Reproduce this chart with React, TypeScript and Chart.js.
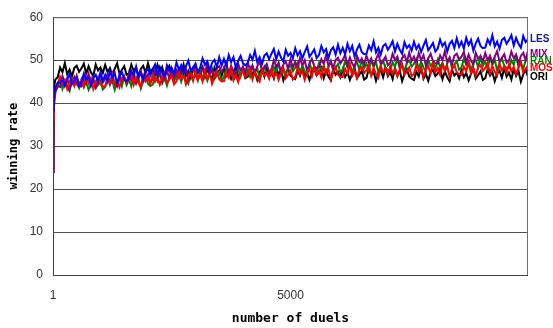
import React, { useEffect, useRef } from "react";
import { Chart, registerables } from "chart.js";

Chart.register(...registerables);

const duels = [
  1, 20, 50,
  100, 150, 200, 250, 300, 350, 400, 450, 500, 550,
  600, 650, 700, 750, 800, 850, 900, 950, 1000, 1050,
  1100, 1150, 1200, 1250, 1300, 1350, 1400, 1450, 1500, 1550,
  1600, 1650, 1700, 1750, 1800, 1850, 1900, 1950, 2000, 2050,
  2100, 2150, 2200, 2250, 2300, 2350, 2400, 2450, 2500, 2550,
  2600, 2650, 2700, 2750, 2800, 2850, 2900, 2950, 3000, 3050,
  3100, 3150, 3200, 3250, 3300, 3350, 3400, 3450, 3500, 3550,
  3600, 3650, 3700, 3750, 3800, 3850, 3900, 3950, 4000, 4050,
  4100, 4150, 4200, 4250, 4300, 4350, 4400, 4450, 4500, 4550,
  4600, 4650, 4700, 4750, 4800, 4850, 4900, 4950, 5000, 5050,
  5100, 5150, 5200, 5250, 5300, 5350, 5400, 5450, 5500, 5550,
  5600, 5650, 5700, 5750, 5800, 5850, 5900, 5950, 6000, 6050,
  6100, 6150, 6200, 6250, 6300, 6350, 6400, 6450, 6500, 6550,
  6600, 6650, 6700, 6750, 6800, 6850, 6900, 6950, 7000, 7050,
  7100, 7150, 7200, 7250, 7300, 7350, 7400, 7450, 7500, 7550,
  7600, 7650, 7700, 7750, 7800, 7850, 7900, 7950, 8000, 8050,
  8100, 8150, 8200, 8250, 8300, 8350, 8400, 8450, 8500, 8550,
  8600, 8650, 8700, 8750, 8800, 8850, 8900, 8950, 9000, 9050,
  9100, 9150, 9200, 9250, 9300, 9350, 9400, 9450, 9500, 9550,
  9600, 9650, 9700, 9750, 9800, 9850, 9900, 9950, 10000,
];

const les = [
  38, 41.5, 43.5,
  44.8, 44.7, 45.7, 44.0, 45.5, 46.8, 44.4, 45.2, 46.1, 44.1,
  44.8, 46.9, 45.4, 46.2, 44.1, 45.9, 46.6, 44.9, 47.2, 45.2,
  46.6, 45.0, 47.5, 45.8, 47.0, 44.5, 46.2, 47.3, 45.6, 45.1,
  45.6, 47.5, 46.4, 48.5, 45.9, 47.0, 45.4, 47.4, 47.9, 46.5,
  47.9, 49.0, 46.6, 48.4, 47.0, 46.1, 48.8, 47.4, 48.1, 46.8,
  49.5, 47.8, 48.8, 47.1, 48.6, 49.9, 47.5, 48.3, 49.2, 47.2,
  48.3, 50.4, 48.9, 49.7, 47.6, 49.4, 50.1, 48.4, 50.7, 48.7,
  50.3, 48.7, 51.2, 49.5, 50.7, 48.2, 49.9, 51.0, 49.3, 48.8,
  49.3, 51.2, 50.1, 52.2, 49.6, 50.7, 49.1, 51.1, 51.6, 50.2,
  51.5, 52.6, 50.2, 52.0, 50.6, 49.7, 52.4, 51.0, 51.7, 50.4,
  52.8, 51.1, 52.1, 50.4, 51.9, 53.2, 50.8, 51.6, 52.5, 50.5,
  51.2, 53.3, 51.8, 52.6, 50.5, 52.3, 53.0, 51.3, 53.6, 51.6,
  52.9, 51.3, 53.8, 52.1, 53.3, 50.8, 52.5, 53.6, 51.9, 51.4,
  51.5, 53.4, 52.3, 54.4, 51.8, 52.9, 51.3, 53.3, 53.8, 52.4,
  53.3, 54.4, 52.0, 53.8, 52.4, 51.5, 54.2, 52.8, 53.5, 52.2,
  54.3, 52.6, 53.6, 51.9, 53.4, 54.7, 52.3, 53.1, 54.0, 52.0,
  52.7, 54.8, 53.3, 54.1, 52.0, 53.8, 54.5, 52.8, 55.1, 53.1,
  54.3, 52.7, 55.2, 53.5, 54.7, 52.2, 53.9, 55.0, 53.3, 52.8,
  52.9, 54.8, 53.7, 55.8, 53.2, 54.3, 52.7, 54.7, 55.2, 53.8,
  54.7, 55.8, 53.4, 55.2, 53.8, 52.9, 55.6, 54.2, 54.9,
];

const mix = [
  24, 39, 42.5,
  44.0, 43.8, 46.3, 44.6, 45.8, 43.3, 45.0, 46.1, 44.4, 43.9,
  43.9, 45.8, 44.7, 46.8, 44.2, 45.3, 43.7, 45.7, 46.2, 44.8,
  45.7, 46.8, 44.4, 46.2, 44.8, 43.9, 46.6, 45.2, 45.9, 44.6,
  47.0, 45.3, 46.3, 44.6, 46.1, 47.4, 45.0, 45.8, 46.7, 44.7,
  45.7, 47.8, 46.3, 47.1, 45.0, 46.8, 47.5, 45.8, 48.1, 46.1,
  47.6, 46.0, 48.5, 46.8, 48.0, 45.5, 47.2, 48.3, 46.6, 46.1,
  46.3, 48.2, 47.1, 49.2, 46.6, 47.7, 46.1, 48.1, 48.6, 47.2,
  48.2, 49.3, 46.9, 48.7, 47.3, 46.4, 49.1, 47.7, 48.4, 47.1,
  49.4, 47.7, 48.7, 47.0, 48.5, 49.8, 47.4, 48.2, 49.1, 47.1,
  47.9, 50.0, 48.5, 49.3, 47.2, 49.0, 49.7, 48.0, 50.3, 48.3,
  49.6, 48.0, 50.5, 48.8, 50.0, 47.5, 49.2, 50.3, 48.6, 48.1,
  48.3, 50.2, 49.1, 51.2, 48.6, 49.7, 48.1, 50.1, 50.6, 49.2,
  50.1, 51.2, 48.8, 50.6, 49.2, 48.3, 51.0, 49.6, 50.3, 49.0,
  51.1, 49.4, 50.4, 48.7, 50.2, 51.5, 49.1, 49.9, 50.8, 48.8,
  49.4, 51.5, 50.0, 50.8, 48.7, 50.5, 51.2, 49.5, 51.8, 49.8,
  50.8, 49.2, 51.7, 50.0, 51.2, 48.7, 50.4, 51.5, 49.8, 49.3,
  49.2, 51.1, 50.0, 52.1, 49.5, 50.6, 49.0, 51.0, 51.5, 50.1,
  50.8, 51.9, 49.5, 51.3, 49.9, 49.0, 51.7, 50.3, 51.0, 49.7,
  51.7, 50.0, 51.0, 49.3, 50.8, 52.1, 49.7, 50.5, 51.4, 49.4,
  49.9, 52.0, 50.5, 51.3, 49.2, 51.0, 51.7, 50.0, 52.3,
];

const ran = [
  32, 40.5, 43,
  43.8, 45.7, 43.3, 45.1, 43.7, 42.8, 45.5, 44.1, 44.8, 43.5,
  45.5, 43.8, 44.8, 43.1, 44.6, 45.9, 43.5, 44.3, 45.2, 43.2,
  43.8, 45.9, 44.4, 45.2, 43.1, 44.9, 45.6, 43.9, 46.2, 44.2,
  45.5, 43.9, 46.4, 44.7, 45.9, 43.4, 45.1, 46.2, 44.5, 44.0,
  44.3, 46.2, 45.1, 47.2, 44.6, 45.7, 44.1, 46.1, 46.6, 45.2,
  46.3, 47.4, 45.0, 46.8, 45.4, 44.5, 47.2, 45.8, 46.5, 45.2,
  47.6, 45.9, 46.9, 45.2, 46.7, 48.0, 45.6, 46.4, 47.3, 45.3,
  46.1, 48.2, 46.7, 47.5, 45.4, 47.2, 47.9, 46.2, 48.5, 46.5,
  47.8, 46.2, 48.7, 47.0, 48.2, 45.7, 47.4, 48.5, 46.8, 46.3,
  46.5, 48.4, 47.3, 49.4, 46.8, 47.9, 46.3, 48.3, 48.8, 47.4,
  48.3, 49.4, 47.0, 48.8, 47.4, 46.5, 49.2, 47.8, 48.5, 47.2,
  49.4, 47.7, 48.7, 47.0, 48.5, 49.8, 47.4, 48.2, 49.1, 47.1,
  47.7, 49.8, 48.3, 49.1, 47.0, 48.8, 49.5, 47.8, 50.1, 48.1,
  49.2, 47.6, 50.1, 48.4, 49.6, 47.1, 48.8, 49.9, 48.2, 47.7,
  47.6, 49.5, 48.4, 50.5, 47.9, 49.0, 47.4, 49.4, 49.9, 48.5,
  49.2, 50.3, 47.9, 49.7, 48.3, 47.4, 50.1, 48.7, 49.4, 48.1,
  50.1, 48.4, 49.4, 47.7, 49.2, 50.5, 48.1, 48.9, 49.8, 47.8,
  48.3, 50.4, 48.9, 49.7, 47.6, 49.4, 50.1, 48.4, 50.7, 48.7,
  49.7, 48.1, 50.6, 48.9, 50.1, 47.6, 49.3, 50.4, 48.7, 48.2,
  48.1, 50.0, 48.9, 51.0, 48.4, 49.5, 47.9, 49.9, 50.4,
];

const mos = [
  36, 41, 43.5,
  44.5, 46.1, 44.6, 45.4, 43.3, 45.1, 45.8, 44.1, 46.4, 44.4,
  45.4, 43.8, 46.3, 44.6, 45.8, 43.3, 45.0, 46.1, 44.4, 43.9,
  43.9, 45.8, 44.7, 46.8, 44.2, 45.3, 43.7, 45.7, 46.2, 44.8,
  45.6, 46.7, 44.3, 46.1, 44.7, 43.8, 46.5, 45.1, 45.8, 44.5,
  46.7, 45.0, 46.0, 44.3, 45.8, 47.1, 44.7, 45.5, 46.4, 44.4,
  45.1, 47.2, 45.7, 46.5, 44.4, 46.2, 46.9, 45.2, 47.5, 45.5,
  46.6, 45.0, 47.5, 45.8, 47.0, 44.5, 46.2, 47.3, 45.6, 45.1,
  45.1, 47.0, 45.9, 48.0, 45.4, 46.5, 44.9, 46.9, 47.4, 46.0,
  46.8, 47.9, 45.5, 47.3, 45.9, 45.0, 47.7, 46.3, 47.0, 45.7,
  47.8, 46.1, 47.1, 45.4, 46.9, 48.2, 45.8, 46.6, 47.5, 45.5,
  46.1, 48.2, 46.7, 47.5, 45.4, 47.2, 47.9, 46.2, 48.5, 46.5,
  47.6, 46.0, 48.5, 46.8, 48.0, 45.5, 47.2, 48.3, 46.6, 46.1,
  46.1, 48.0, 46.9, 49.0, 46.4, 47.5, 45.9, 47.9, 48.4, 47.0,
  47.7, 48.8, 46.4, 48.2, 46.8, 45.9, 48.6, 47.2, 47.9, 46.6,
  48.6, 46.9, 47.9, 46.2, 47.7, 49.0, 46.6, 47.4, 48.3, 46.3,
  46.8, 48.9, 47.4, 48.2, 46.1, 47.9, 48.6, 46.9, 49.2, 47.2,
  48.2, 46.6, 49.1, 47.4, 48.6, 46.1, 47.8, 48.9, 47.2, 46.7,
  46.6, 48.5, 47.4, 49.5, 46.9, 48.0, 46.4, 48.4, 48.9, 47.5,
  48.2, 49.3, 46.9, 48.7, 47.3, 46.4, 49.1, 47.7, 48.4, 47.1,
  49.1, 47.4, 48.4, 46.7, 48.2, 49.5, 47.1, 47.9, 48.8,
];

const ori = [
  40, 43.5, 45.5,
  46.0, 48.3, 47.2, 49.3, 46.7, 47.8, 46.2, 48.2, 48.7, 47.3,
  48.1, 49.2, 46.8, 48.6, 47.2, 46.3, 49.0, 47.6, 48.3, 47.0,
  48.9, 47.2, 48.2, 46.5, 48.0, 49.3, 46.9, 47.7, 48.6, 46.6,
  46.9, 49.0, 47.5, 48.3, 46.2, 48.0, 48.7, 47.0, 49.3, 47.3,
  48.0, 46.4, 48.9, 47.2, 48.4, 45.9, 47.6, 48.7, 47.0, 46.5,
  46.1, 48.0, 46.9, 49.0, 46.4, 47.5, 45.9, 47.9, 48.4, 47.0,
  47.4, 48.5, 46.1, 47.9, 46.5, 45.6, 48.3, 46.9, 47.6, 46.3,
  48.1, 46.4, 47.4, 45.7, 47.2, 48.5, 46.1, 46.9, 47.8, 45.8,
  46.1, 48.2, 46.7, 47.5, 45.4, 47.2, 47.9, 46.2, 48.5, 46.5,
  47.4, 45.8, 48.3, 46.6, 47.8, 45.3, 47.0, 48.1, 46.4, 45.9,
  45.6, 47.5, 46.4, 48.5, 45.9, 47.0, 45.4, 47.4, 47.9, 46.5,
  47.1, 48.2, 45.8, 47.6, 46.2, 45.3, 48.0, 46.6, 47.3, 46.0,
  47.8, 46.1, 47.1, 45.4, 46.9, 48.2, 45.8, 46.6, 47.5, 45.5,
  45.9, 48.0, 46.5, 47.3, 45.2, 47.0, 47.7, 46.0, 48.3, 46.3,
  47.2, 45.6, 48.1, 46.4, 47.6, 45.1, 46.8, 47.9, 46.2, 45.7,
  45.4, 47.3, 46.2, 48.3, 45.7, 46.8, 45.2, 47.2, 47.7, 46.3,
  46.9, 48.0, 45.6, 47.4, 46.0, 45.1, 47.8, 46.4, 47.1, 45.8,
  47.7, 46.0, 47.0, 45.3, 46.8, 48.1, 45.7, 46.5, 47.4, 45.4,
  45.8, 47.9, 46.4, 47.2, 45.1, 46.9, 47.6, 45.9, 48.2, 46.2,
  47.1, 45.5, 48.0, 46.3, 47.5, 45.0, 46.7, 47.8, 46.1,
];

const seriesNames = ["LES", "MOS", "MIX", "RAN", "ORI"];
const seriesColors = ["#0000ff", "#ff0000", "#800080", "#008000", "#000000"];
const labelNames = ["LES", "MIX", "RAN", "MOS", "ORI"];
const labelValues = [54.8, 51.4, 49.7, 48.1, 46.1];
const labelColors = ["#1a1a7a", "#800080", "#008000", "#ff0000", "#000000"];
const xTickValues = [1, 5000];

export default function App() {
  const ref = useRef<HTMLCanvasElement>(null);
  useEffect(() => {
    const series = [les, mos, mix, ran, ori];
    const overlay = {
      id: "overlay",
      afterDatasetsDraw(chart: any) {
        const { ctx, chartArea: a, scales } = chart;
        const y = scales.y;
        ctx.save();
        ctx.strokeStyle = "#707070";
        ctx.lineWidth = 1;
        ctx.strokeRect(a.left + 0.5, a.top + 0.5, a.right - a.left - 1, a.bottom - a.top);
        ctx.strokeStyle = "#404040";
        ctx.beginPath();
        ctx.moveTo(a.left + 0.5, a.top);
        ctx.lineTo(a.left + 0.5, a.bottom + 0.5);
        ctx.lineTo(a.right, a.bottom + 0.5);
        ctx.stroke();
        ctx.font = 'bold 10px "Liberation Sans", Arial, sans-serif';
        ctx.textBaseline = "middle";
        ctx.textAlign = "left";
        labelNames.forEach((n, i) => {
          ctx.fillStyle = labelColors[i];
          ctx.fillText(n, a.right + 2, y.getPixelForValue(labelValues[i]));
        });
        ctx.restore();
      },
    };
    const chart = new Chart(ref.current!, {
      type: "line",
      data: {
        datasets: series.map((s, i) => ({
          label: seriesNames[i],
          data: s.map((v, j) => ({ x: duels[j], y: v })),
          borderColor: seriesColors[i],
          backgroundColor: seriesColors[i],
          borderWidth: 2,
          pointRadius: 0,
          tension: 0,
        })),
      },
      options: {
        responsive: false,
        animation: false,
        layout: { padding: { left: 0, right: 25, top: 8, bottom: 0 } },
        plugins: { legend: { display: false }, tooltip: { enabled: false } },
        scales: {
          x: {
            type: "linear",
            min: 1,
            max: 10000,
            afterFit: (s: any) => { s.height = 53; },
            afterBuildTicks: (s: any) => { s.ticks = xTickValues.map((v) => ({ value: v })); },
            grid: { display: false, drawTicks: false },
            border: { display: false },
            ticks: {
              padding: 13,
              color: "#333",
              font: { size: 12, family: '"Liberation Sans", Arial, sans-serif' },
              maxRotation: 0,
              callback: (v: any) => String(v),
            },
            title: {
              display: true,
              text: "number of duels",
              color: "#000",
              font: { size: 13, weight: "bold", family: '"DejaVu Sans Mono", monospace' },
              padding: { top: 0, bottom: 2 },
            },
          },
          y: {
            min: 0,
            max: 60,
            afterFit: (s: any) => { s.width = 53; },
            grid: { color: "#505050", drawTicks: false },
            border: { display: false },
            ticks: {
              stepSize: 10,
              padding: 10,
              color: "#333",
              font: { size: 12, family: '"Liberation Sans", Arial, sans-serif' },
            },
            title: {
              display: true,
              text: "winning rate",
              color: "#000",
              font: { size: 12, weight: "bold", family: '"DejaVu Sans Mono", monospace' },
              padding: { top: 7, bottom: 0 },
            },
          },
        },
      },
      plugins: [overlay],
    });
    return () => chart.destroy();
  }, []);
  return (
    <div style={{ position: "absolute", left: 0, top: 0, width: 553, height: 328 }}>
      <canvas ref={ref} width={553} height={328} style={{ display: "block" }} />
    </div>
  );
}
